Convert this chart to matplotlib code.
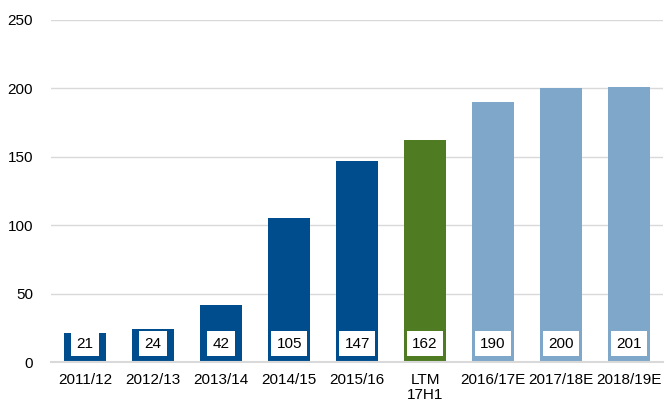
#!/usr/bin/env python3
"""Bar chart of yearly values with actual, LTM and estimate periods"""

import matplotlib
matplotlib.use("Agg")
import matplotlib.pyplot as plt

plt.rcParams['font.family'] = ['Liberation Sans', 'DejaVu Sans']

categories = ["2011/12", "2012/13", "2013/14", "2014/15", "2015/16",
              "LTM\n17H1", "2016/17E", "2017/18E", "2018/19E"]
values = [21, 24, 42, 105, 147, 162, 190, 200, 201]
kinds = ["actual"] * 5 + ["ltm"] + ["estimate"] * 3

colors = {"actual": "#004d8d", "ltm": "#4f7b23", "estimate": "#7fa7ca"}


def main():
    fig = plt.figure(figsize=(6.65, 4.05), dpi=100)
    ax = fig.add_axes([0.077, 0.106, 0.92, 0.845])

    x = list(range(len(categories)))
    ax.bar(x, values, width=0.62, color=[colors[k] for k in kinds], zorder=2)

    # value labels sit in white boxes near the bottom of each bar
    for xi, v in zip(x, values):
        ax.text(xi, 13.5, str(v), ha='center', va='center', fontsize=11,
                zorder=3,
                bbox=dict(boxstyle='square,pad=0.34', facecolor='white',
                          edgecolor='none'))

    ax.set_xlim(-0.5, len(categories) - 0.5)
    ax.set_ylim(0, 250)
    ax.set_yticks([0, 50, 100, 150, 200, 250])
    ax.set_xticks(x)
    ax.set_xticklabels(categories, linespacing=1.1)
    ax.tick_params(axis='both', length=0, labelsize=11)
    ax.tick_params(axis='x', pad=8)
    ax.tick_params(axis='y', pad=13)

    ax.yaxis.grid(True, color='#d9d9d9', linewidth=1, zorder=0)
    ax.set_axisbelow(True)
    for side in ['top', 'right', 'left']:
        ax.spines[side].set_visible(False)
    ax.spines['bottom'].set_color('#d9d9d9')
    ax.spines['bottom'].set_linewidth(1.5)

    fig.savefig("out.png", dpi=100)


if __name__ == "__main__":
    main()
